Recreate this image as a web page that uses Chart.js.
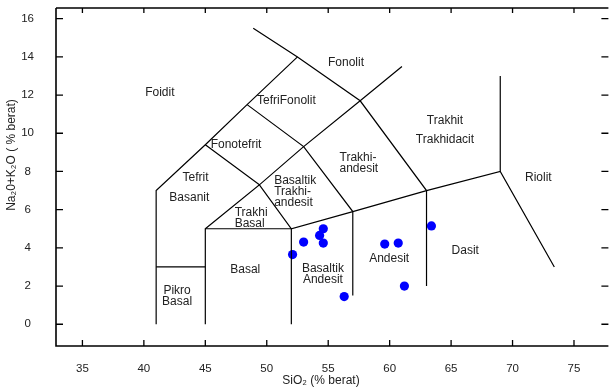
<!DOCTYPE html>
<html>
<head>
<meta charset="utf-8">
<script src="https://cdn.jsdelivr.net/npm/chart.js@4.4.1/dist/chart.umd.min.js"></script>
<style>
  html, body { margin: 0; padding: 0; background: #fff; }
</style>
</head>
<body>
<canvas id="tas" width="613" height="390"></canvas>
<script>
// axis ticks
const xTicks = [35, 40, 45, 50, 55, 60, 65, 70, 75];
const yTicks = [0, 2, 4, 6, 8, 10, 12, 14, 16];

// samples (SiO2 vs Na2O+K2O, wt%)
const sampleSiO2   = [52.1, 53.0, 54.3, 54.6, 54.6, 56.3, 59.6, 60.7, 61.2, 63.4];
const sampleAlkali = [3.65, 4.3, 4.65, 5.0, 4.25, 1.45, 4.2, 4.25, 2.0, 5.15];

// TAS field boundaries (SiO2, alkali)
const foiditLine   = [[41, 0], [41, 7], [45, 9.4], [48.4, 11.5], [52.5, 14]];
const fonolitLine  = [[48.9, 15.5], [52.5, 14], [57.6, 11.7], [63, 7], [63, 2]];
const pikroLine    = [[41, 3], [45, 3]];
const basalLine    = [[45, 0], [45, 5], [52, 5], [52, 0]];
const lowerLine    = [[45, 5], [49.4, 7.3], [52, 5], [57, 5.9], [63, 7], [69, 8], [73.4, 3]];
const middleLine   = [[45, 9.4], [49.4, 7.3], [53, 9.3], [57.6, 11.7], [61, 13.5]];
const tefriLine    = [[48.4, 11.5], [53, 9.3], [57, 5.9], [57, 1.5]];
const riolitLine   = [[69, 8], [69, 13]];

const boundaries = [foiditLine, fonolitLine, pikroLine, basalLine, lowerLine, middleLine, tefriLine, riolitLine];

// field names
const fieldNames = [
  { t: ["Foidit"], x: 41.3, y: 12.1 },
  { t: ["Tefrit"], x: 44.2, y: 7.65 },
  { t: ["Basanit"], x: 43.7, y: 6.62 },
  { t: ["Pikro", "Basal"], x: 42.7, y: 1.78 },
  { t: ["Fonotefrit"], x: 47.5, y: 9.4 },
  { t: ["TefriFonolit"], x: 51.6, y: 11.7 },
  { t: ["Fonolit"], x: 56.45, y: 13.7 },
  { t: ["Trakhi-", "andesit"], x: 55.92, y: 8.72, left: true },
  { t: ["Basaltik", "Trakhi-", "andesit"], x: 50.6, y: 7.5, left: true },
  { t: ["Trakhi", "Basal"], x: 47.39, y: 5.86, left: true },
  { t: ["Basal"], x: 48.25, y: 2.88 },
  { t: ["Basaltik", "Andesit"], x: 54.57, y: 2.93 },
  { t: ["Andesit"], x: 59.96, y: 3.42 },
  { t: ["Dasit"], x: 66.15, y: 3.84 },
  { t: ["Trakhit"], x: 64.5, y: 10.66 },
  { t: ["Trakhidacit"], x: 64.5, y: 9.65 },
  { t: ["Riolit"], x: 72.1, y: 7.68 }
];

const FONT = "12px 'Liberation Sans', Arial, sans-serif";

const framePlugin = {
  id: "frame",
  afterDraw(chart) {
    const ctx = chart.ctx;
    const a = chart.chartArea;
    const xs = chart.scales.x, ys = chart.scales.y;
    ctx.save();
    ctx.strokeStyle = "#000";
    ctx.lineWidth = 1.6;
    ctx.beginPath();
    ctx.moveTo(a.left, a.top); ctx.lineTo(a.right, a.top);
    ctx.moveTo(a.left, a.top); ctx.lineTo(a.left, a.bottom);
    ctx.moveTo(a.left - 0.8, a.bottom); ctx.lineTo(a.right, a.bottom);
    ctx.stroke();

    ctx.lineWidth = 1.3;
    ctx.beginPath();
    xTicks.forEach(v => {
      const px = xs.getPixelForValue(v);
      ctx.moveTo(px, a.bottom); ctx.lineTo(px, a.bottom - 6);
      ctx.moveTo(px, a.top); ctx.lineTo(px, a.top + 5);
    });
    yTicks.forEach(v => {
      const py = ys.getPixelForValue(v);
      ctx.moveTo(a.left, py); ctx.lineTo(a.left + 7, py);
      ctx.moveTo(a.right, py); ctx.lineTo(a.right - 7, py);
    });
    ctx.stroke();

    // field names
    ctx.fillStyle = "#222";
    ctx.font = FONT;
    ctx.textBaseline = "middle";
    fieldNames.forEach(f => {
      ctx.textAlign = f.left ? "left" : "center";
      const px = xs.getPixelForValue(f.x);
      const py = ys.getPixelForValue(f.y);
      f.t.forEach((s, i) => ctx.fillText(s, px, py + i * 11));
    });

    // axis titles
    ctx.textAlign = "center";
    ctx.fillText("SiO\u2082 (% berat)", 321, 381);
    ctx.translate(12, 155);
    ctx.rotate(-Math.PI / 2);
    ctx.fillText("Na\u20820+K\u2082O ( % berat)", 0, 0);
    ctx.restore();
  }
};

const datasets = boundaries.map(line => ({
  data: line.map(p => ({ x: p[0], y: p[1] })),
  showLine: true,
  borderColor: "#000",
  borderWidth: 1.2,
  pointRadius: 0,
  fill: false
}));
datasets.push({
  data: sampleSiO2.map((x, i) => ({ x: x, y: sampleAlkali[i] })),
  showLine: false,
  pointRadius: 4.6,
  pointBackgroundColor: "#0000ff",
  pointBorderColor: "#0000ff",
  pointBorderWidth: 0
});

function noPad(s) {
  s.paddingTop = 0; s.paddingBottom = 0; s.paddingLeft = 0; s.paddingRight = 0;
}

const tickFont = { family: "'Liberation Sans', Arial", size: 11.5 };

new Chart(document.getElementById("tas"), {
  type: "scatter",
  data: { datasets },
  options: {
    responsive: false,
    animation: false,
    devicePixelRatio: 1,
    layout: { padding: { top: 8, right: 0, left: 0, bottom: 0 } },
    plugins: { legend: { display: false }, tooltip: { enabled: false } },
    scales: {
      x: {
        type: "linear",
        min: 32.85,
        max: 77.8,
        afterBuildTicks: s => { s.ticks = xTicks.map(v => ({ value: v })); },
        afterFit: s => { s.height = 44; noPad(s); },
        grid: { display: false },
        border: { display: false },
        ticks: { color: "#222", font: tickFont, padding: 8, maxRotation: 0, autoSkip: false }
      },
      y: {
        type: "linear",
        min: -1.14,
        max: 16.56,
        afterBuildTicks: s => { s.ticks = yTicks.map(v => ({ value: v })); },
        afterFit: s => { s.width = 56; noPad(s); },
        grid: { display: false },
        border: { display: false },
        ticks: { color: "#222", font: tickFont, padding: 14, crossAlign: "center", autoSkip: false }
      }
    }
  },
  plugins: [framePlugin]
});
</script>
</body>
</html>
